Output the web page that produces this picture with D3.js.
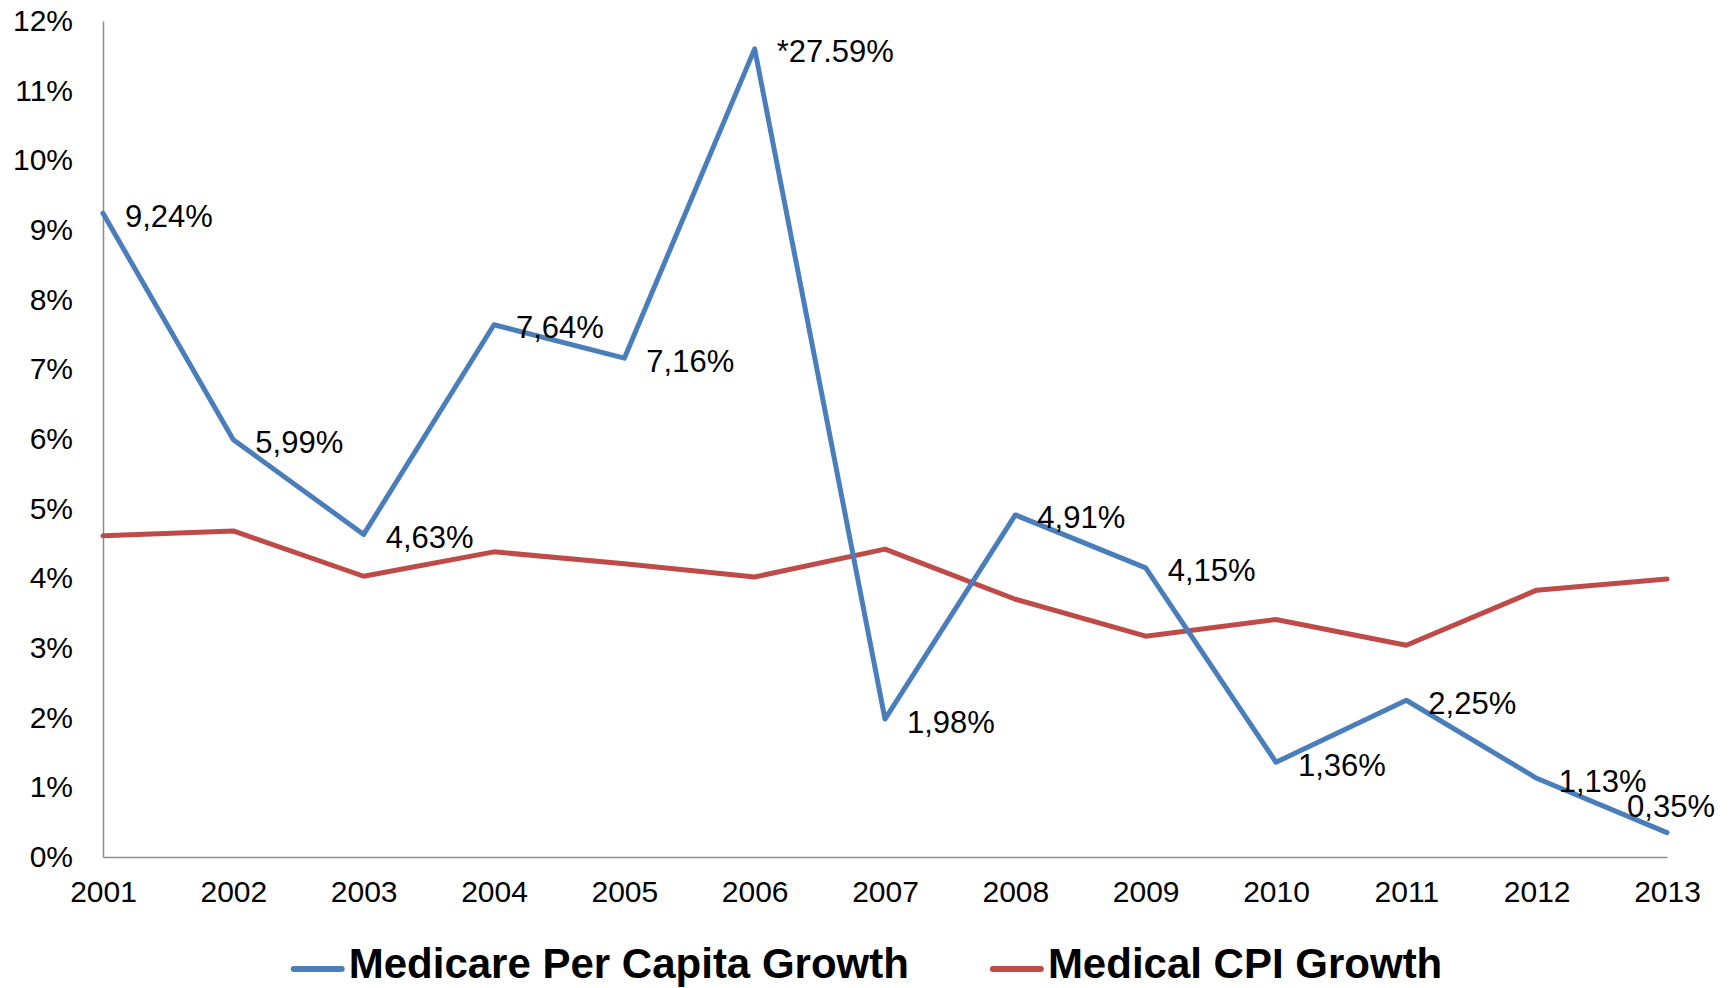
<!DOCTYPE html>
<html>
<head>
<meta charset="utf-8">
<script src="https://cdn.jsdelivr.net/npm/d3@7/dist/d3.min.js"></script>
<style>
  html, body { margin: 0; padding: 0; background: #fff; }
  svg { display: block; font-family: Arial, "Liberation Sans", sans-serif; }
</style>
</head>
<body>
<svg id="chart" width="1733" height="988"></svg>
<script>
// Years on the horizontal axis
const years = ["2001","2002","2003","2004","2005","2006","2007","2008","2009","2010","2011","2012","2013"];

// Medicare per-capita spending growth, percent
const medicareGrowth = [9.24, 5.99, 4.63, 7.64, 7.16, 27.59, 1.98, 4.91, 4.15, 1.36, 2.25, 1.13, 0.35];

// Medical CPI growth, percent
const medicalCpiGrowth = [4.61, 4.68, 4.03, 4.38, 4.21, 4.02, 4.42, 3.70, 3.17, 3.41, 3.04, 3.83, 3.99];

// Values above this are drawn at the ceiling and flagged with an asterisk
const axisBreakCeiling = 11.6;

// Y-axis tick values, percent
const yTicks = [0,1,2,3,4,5,6,7,8,9,10,11,12];

const seriesNames = ["Medicare Per Capita Growth", "Medical CPI Growth"];
const seriesColors = ["#4a7ebb", "#be4b48"];

const svg = d3.select("#chart");
const W = 1733;
const plot = { left: 103, right: 1667, top: 21, bottom: 857 };

const x = d3.scalePoint().domain(years).range([plot.left, plot.right]);
const y = d3.scaleLinear().domain([0, 12]).range([plot.bottom, plot.top]);

// Axes: plain grey lines, no tick marks
const yAxis = svg.append("g")
  .attr("transform", `translate(${plot.left},0)`)
  .call(d3.axisLeft(y).tickValues(yTicks).tickSize(0).tickPadding(30)
        .tickFormat(d => d + "%"));
yAxis.select(".domain").attr("stroke", "#8c8c8c").attr("stroke-width", 1.5);
yAxis.selectAll("text").attr("font-size", 30).attr("fill", "#000")
  .attr("font-family", "Arial, 'Liberation Sans', sans-serif");

const xAxis = svg.append("g")
  .attr("transform", `translate(0,${plot.bottom})`)
  .call(d3.axisBottom(x).tickSize(0).tickPadding(24));
xAxis.select(".domain").attr("stroke", "#8c8c8c").attr("stroke-width", 1.5);
xAxis.selectAll("text").attr("font-size", 30).attr("fill", "#000")
  .attr("font-family", "Arial, 'Liberation Sans', sans-serif");

const plotted = v => Math.min(v, axisBreakCeiling);

const line = d3.line()
  .x((d, i) => x(years[i]))
  .y(d => y(plotted(d)));

// Medical CPI drawn first, Medicare on top
svg.append("path").datum(medicalCpiGrowth)
  .attr("d", line).attr("fill", "none")
  .attr("stroke", seriesColors[1]).attr("stroke-width", 5)
  .attr("stroke-linejoin", "round").attr("stroke-linecap", "round");

svg.append("path").datum(medicareGrowth)
  .attr("d", line).attr("fill", "none")
  .attr("stroke", seriesColors[0]).attr("stroke-width", 5)
  .attr("stroke-linejoin", "round").attr("stroke-linecap", "round");

// Data labels for the Medicare series
const fmt = v => v > axisBreakCeiling
  ? "*" + v.toFixed(2) + "%"
  : v.toFixed(2).replace(".", ",") + "%";

const labels = svg.append("g").attr("font-size", 31).attr("fill", "#000");
medicareGrowth.forEach((v, i) => {
  const px = x(years[i]), py = y(plotted(v));
  const t = labels.append("text")
    .attr("x", px + 22).attr("y", py + 3)
    .attr("dominant-baseline", "central")
    .text(fmt(v));
  const w = t.node().getComputedTextLength();
  if (px + 22 + w > W - 10) {
    // keep the label inside the frame: tuck it up and to the left
    t.attr("text-anchor", "end").attr("x", px + 48).attr("y", py - 26);
  }
});

// Legend, centred under the plot
const legend = svg.append("g");
const items = seriesNames.map((name, i) => {
  const g = legend.append("g");
  g.append("line").attr("x1", 3).attr("x2", 51).attr("y1", 0).attr("y2", 0)
    .attr("stroke", seriesColors[i]).attr("stroke-width", 6).attr("stroke-linecap", "round");
  const t = g.append("text").attr("x", 58).attr("y", 9)
    .attr("font-size", 42).attr("font-weight", "bold").attr("fill", "#000")
    .text(name);
  return { g, w: 58 + t.node().getComputedTextLength() };
});
const gap = 81;
const total = d3.sum(items, d => d.w) + gap * (items.length - 1);
let cx = (W - total) / 2;
items.forEach(it => {
  it.g.attr("transform", `translate(${cx},969)`);
  cx += it.w + gap;
});
</script>
</body>
</html>
